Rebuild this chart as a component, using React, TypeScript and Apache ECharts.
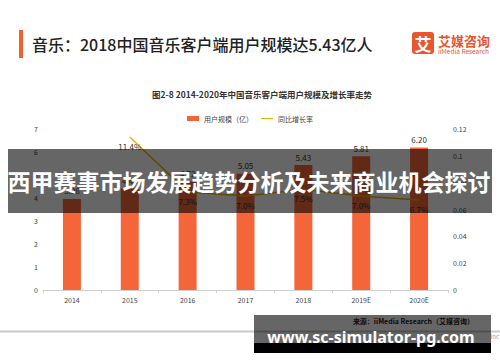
import React, { useEffect, useRef } from "react";
import * as echarts from "echarts";

const categories = ["2014", "2015", "2016", "2017", "2018", "2019E", "2020E"];
const userScale = [3.96, 4.41, 4.72, 5.05, 5.43, 5.81, 6.2];
const growthRate: (number | string)[] = ["-", 0.114, 0.073, 0.07, 0.075, 0.07, 0.067];
const leftTicks = { min: 0, max: 7, interval: 1 };
const rightTicks = { min: 0, max: 0.12, interval: 0.02 };

const ORANGE = "#F4663A";
const GOLD = "#E9B200";
const FONT = "'Noto Sans CJK SC', 'Noto Sans', sans-serif";

export default function App() {
  const ref = useRef<HTMLDivElement>(null);
  useEffect(() => {
    if (!ref.current) return;
    const chart = echarts.init(ref.current, undefined, { renderer: "svg" });
    chart.setOption({
      animation: false,
      backgroundColor: "#ffffff",
      textStyle: { fontFamily: FONT },
      grid: { left: 43, right: 52, top: 129, bottom: 72, containLabel: false },
      legend: {
        top: 110,
        left: "center",
        itemGap: 8,
        itemWidth: 12,
        itemHeight: 5,
        textStyle: { fontSize: 7, color: "#444", fontFamily: FONT },
        data: [
          { name: "用户规模（亿）", icon: "rect" },
          { name: "同比增长率", icon: "path://M0,0L24,0L24,2L0,2Z" },
        ],
      },
      xAxis: {
        type: "category",
        data: categories,
        axisLine: { lineStyle: { color: "#d0d0d0", width: 1 } },
        axisTick: { show: true, lineStyle: { color: "#d0d0d0" }, length: 3 },
        axisLabel: { fontSize: 7, color: "#444", margin: 6, fontFamily: FONT },
      },
      yAxis: [
        {
          type: "value",
          ...leftTicks,
          splitLine: { show: false },
          axisLine: { show: false },
          axisTick: { show: false },
          axisLabel: { fontSize: 7, color: "#444", margin: 5, fontFamily: FONT },
        },
        {
          type: "value",
          ...rightTicks,
          position: "right",
          splitLine: { show: false },
          axisLine: { show: false },
          axisTick: { show: false },
          axisLabel: {
            fontSize: 7,
            color: "#444",
            margin: 5,
            align: "left",
            fontFamily: FONT,
            formatter: (v: number) => (v === 0 ? "0" : String(Math.round(v * 100) / 100)),
          },
        },
      ],
      series: [
        {
          name: "用户规模（亿）",
          type: "bar",
          data: userScale,
          barWidth: 18,
          itemStyle: { color: ORANGE },
          label: {
            show: true,
            position: "top",
            distance: 4,
            fontSize: 8,
            color: "#333",
            fontFamily: FONT,
            formatter: (p: any) => Number(p.value).toFixed(2),
          },
        },
        {
          name: "同比增长率",
          type: "line",
          yAxisIndex: 1,
          data: growthRate,
          symbol: "circle",
          symbolSize: 0.1,
          showSymbol: true,
          lineStyle: { color: GOLD, width: 1.5 },
          itemStyle: { color: GOLD },
          label: {
            show: true,
            position: "bottom",
            distance: 5,
            fontSize: 8,
            color: "#333",
            fontFamily: FONT,
            formatter: (p: any) => (Number(p.value) * 100).toFixed(1) + "%",
          },
        },
      ],
      graphic: [
        // title accent bar
        { type: "rect", z: 50, shape: { x: 19, y: 30, width: 4, height: 28 }, style: { fill: "#EE6230" } },
        {
          type: "text",
          z: 50,
          x: 32,
          y: 44,
          style: {
            text: "音乐：2018中国音乐客户端用户规模达5.43亿人",
            fill: "#222",
            font: `500 16px ${FONT}`,
            verticalAlign: "middle",
          },
        },
        // logo
        { type: "rect", z: 50, shape: { x: 412, y: 32, width: 22, height: 22, r: 3 }, style: { fill: "#E9552F" } },
        {
          type: "text",
          z: 51,
          x: 423,
          y: 43.5,
          style: { text: "艾", fill: "#fff", font: `bold 17px ${FONT}`, align: "center", verticalAlign: "middle" },
        },
        {
          type: "text",
          z: 50,
          x: 438,
          y: 40,
          style: { text: "艾媒咨询", fill: "#E9552F", font: `bold 13px ${FONT}`, verticalAlign: "middle" },
        },
        {
          type: "text",
          z: 50,
          x: 438,
          y: 51,
          style: { text: "iiMedia Research", fill: "#E9552F", font: `6.5px ${FONT}`, verticalAlign: "middle" },
        },
        // chart subtitle
        {
          type: "text",
          z: 50,
          x: 262,
          y: 94,
          style: {
            text: "图2-8 2014-2020年中国音乐客户端用户规模及增长率走势",
            fill: "#333",
            font: `bold 8.5px ${FONT}`,
            align: "center",
            verticalAlign: "middle",
          },
        },
        // bottom rule and source
        { type: "line", z: 50, shape: { x1: 0, y1: 331.5, x2: 500, y2: 331.5 }, style: { stroke: "#c9c9c9", lineWidth: 2 } },
        {
          type: "text",
          z: 50,
          x: 474,
          y: 321,
          style: {
            text: "来源：iiMedia Research（艾媒咨询）",
            fill: "#222",
            font: `bold 7px ${FONT}`,
            align: "right",
            verticalAlign: "middle",
          },
        },
        {
          type: "text",
          z: 50,
          x: 499,
          y: 336,
          style: { text: "Inc", fill: "#999", font: `6px ${FONT}`, align: "right", verticalAlign: "middle" },
        },
        // central banner overlay
        { type: "rect", z: 100, shape: { x: 8, y: 149, width: 484, height: 64 }, style: { fill: "rgba(0,0,0,0.6)" } },
        {
          type: "text",
          z: 101,
          x: 249,
          y: 181,
          style: {
            text: "西甲赛事市场发展趋势分析及未来商业机会探讨",
            fill: "#fff",
            font: `bold 23px ${FONT}`,
            align: "center",
            verticalAlign: "middle",
          },
        },
        // watermark box
        { type: "rect", z: 100, shape: { x: 254, y: 315, width: 237, height: 28 }, style: { fill: "rgba(0,0,0,0.6)" } },
        { type: "rect", z: 100, shape: { x: 254, y: 343, width: 237, height: 10 }, style: { fill: "#000" } },
        {
          type: "text",
          z: 101,
          x: 371,
          y: 337,
          style: {
            text: "www.sc-simulator-pg.com",
            fill: "#fff",
            font: `bold 16px 'Noto Sans', sans-serif`,
            align: "center",
            verticalAlign: "middle",
          },
        },
      ],
    });
    return () => chart.dispose();
  }, []);
  return (
    <div
      ref={ref}
      style={{ position: "fixed", left: 0, top: 0, width: 500, height: 362, background: "#fff" }}
    />
  );
}
